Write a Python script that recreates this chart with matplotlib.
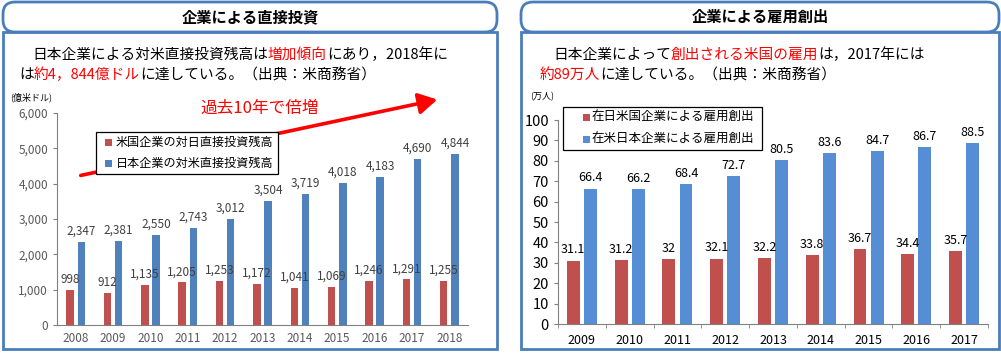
import matplotlib
matplotlib.use('Agg')
import numpy as np
from matplotlib import pyplot as plt
from matplotlib.patches import FancyBboxPatch, FancyArrowPatch, Rectangle

plt.rcParams['font.family'] = ['Noto Sans CJK JP', 'DejaVu Sans']
plt.rcParams['axes.unicode_minus'] = False

W, H = 1001, 354

# left chart: direct investment (億米ドル)
inv_years = ['2008', '2009', '2010', '2011', '2012', '2013', '2014', '2015', '2016', '2017', '2018']
inv_us_to_jp = [998, 912, 1135, 1205, 1253, 1172, 1041, 1069, 1246, 1291, 1255]
inv_jp_to_us = [2347, 2381, 2550, 2743, 3012, 3504, 3719, 4018, 4183, 4690, 4844]
inv_labels = ['米国企業の対日直接投資残高', '日本企業の対米直接投資残高']
inv_yticks = [0, 1000, 2000, 3000, 4000, 5000, 6000]

# right chart: job creation (万人)
job_years = ['2009', '2010', '2011', '2012', '2013', '2014', '2015', '2016', '2017']
job_us_in_jp = [31.1, 31.2, 32, 32.1, 32.2, 33.8, 36.7, 34.4, 35.7]
job_jp_in_us = [66.4, 66.2, 68.4, 72.7, 80.5, 83.6, 84.7, 86.7, 88.5]
job_labels = ['在日米国企業による雇用創出', '在米日本企業による雇用創出']
job_yticks = list(range(0, 101, 10))

RED = '#C0504D'
BLUE_L = '#4F81BD'
BLUE_R = '#558ED5'
FRAME = '#4A7EBB'


def fx(px):
    return px / W


def fy(py):
    return 1 - py / H


def axes_px(fig, x0, y0, x1, y1):
    return fig.add_axes([fx(x0), fy(y1), (x1 - x0) / W, (y1 - y0) / H])


def draw_runs(fig, x_px, y_px, runs, size):
    r = fig.canvas.get_renderer()
    x = x_px
    for s, c in runs:
        t = fig.text(fx(x), fy(y_px), s, color=c, fontsize=size, ha='left', va='center')
        bb = t.get_window_extent(renderer=r)
        x += bb.width


def panel(fig, x0, x1, title):
    body = Rectangle((fx(x0), fy(349)), (x1 - x0) / W, (349 - 32) / H,
                     transform=fig.transFigure, fill=False, ec=FRAME, lw=2)
    fig.patches.append(body)
    head = FancyBboxPatch((fx(x0), fy(32)), (x1 - x0) / W, 30 / H,
                          boxstyle='round,pad=0,rounding_size=0.012',
                          transform=fig.transFigure, fc='white', ec=FRAME, lw=2,
                          mutation_aspect=W / H)
    fig.patches.append(head)
    fig.text(fx((x0 + x1) / 2), fy(17), title, fontsize=11, fontweight='bold',
             ha='center', va='center')


def box_legend(fig, x0, y0, x1, y1, labels, colors, size, mark_dx, text_dx):
    # legend frame drawn in pixel coords, over the plot
    fr = Rectangle((fx(x0), fy(y1)), (x1 - x0) / W, (y1 - y0) / H, transform=fig.transFigure,
                   fc='white', ec='black', lw=0.9, zorder=5)
    fig.patches.append(fr)
    n = len(labels)
    step = (y1 - y0) / n
    for i, (lab, c) in enumerate(zip(labels, colors)):
        yc = y0 + step * (i + 0.5)
        sq = Rectangle((fx(x0 + mark_dx), fy(yc + 3.5)), 7 / W, 7 / H, transform=fig.transFigure,
                       fc=c, ec='none', zorder=6)
        fig.patches.append(sq)
        fig.text(fx(x0 + text_dx), fy(yc), lab, fontsize=size, ha='left', va='center', zorder=6)


fig = plt.figure(figsize=(W / 100, H / 100), dpi=100)

panel(fig, 3, 497, '企業による直接投資')
panel(fig, 521, 999, '企業による雇用創出')

# header texts
draw_runs(fig, 32, 55, [('日本企業による対米直接投資残高は', 'black'), ('増加傾向', 'red'),
                        ('にあり，2018年に', 'black')], 10.6)
draw_runs(fig, 19, 75, [('は', 'black'), ('約4，844億ドル', 'red'),
                        ('に達している。（出典：米商務省）', 'black')], 10.6)
draw_runs(fig, 553, 55, [('日本企業によって', 'black'), ('創出される米国の雇用', 'red'),
                         ('は，2017年には', 'black')], 10.6)
draw_runs(fig, 540, 75, [('約89万人', 'red'), ('に達している。（出典：米商務省）', 'black')], 10.6)

# ---------- left chart ----------
ax1 = axes_px(fig, 57, 113, 468, 325)
x = np.arange(len(inv_years))
b1 = ax1.bar(x - 0.15, inv_us_to_jp, width=0.2, color=RED)
b2 = ax1.bar(x + 0.15, inv_jp_to_us, width=0.2, color=BLUE_L)
fmt = lambda v: f'{v:,.0f}'
ax1.bar_label(b1, labels=[fmt(v) for v in inv_us_to_jp], padding=3, fontsize=8.5, color='#404040')
ax1.bar_label(b2, labels=[fmt(v) for v in inv_jp_to_us], padding=3, fontsize=8.5, color='#404040')
ax1.set_xlim(-0.5, len(inv_years) - 0.5)
ax1.set_ylim(0, 6000)
ax1.set_yticks(inv_yticks)
ax1.set_yticklabels([fmt(v) for v in inv_yticks])
ax1.set_xticks(x)
ax1.set_xticklabels(inv_years)
ax1.tick_params(axis='y', labelsize=8.5, labelcolor='#595959', length=3, color='#808080')
ax1.tick_params(axis='x', labelsize=8.5, labelcolor='#595959', length=0, pad=5)
for s in ['top', 'right']:
    ax1.spines[s].set_visible(False)
ax1.spines['left'].set_color('#808080')
ax1.spines['bottom'].set_color('#808080')
ax1.patch.set_alpha(0)
fig.text(fx(10), fy(97), '(億米ドル)', fontsize=6.5, ha='left', va='center')

arrow = FancyArrowPatch((fx(78), fy(176)), (fx(440), fy(99)), transform=fig.transFigure,
                        arrowstyle='-|>,head_length=7,head_width=4', color='red', lw=2.6,
                        mutation_scale=1.6, zorder=-1)
fig.patches.append(arrow)
fig.text(fx(260), fy(108), '過去10年で倍増', color='red', fontsize=12, ha='center', va='center')
box_legend(fig, 96, 132, 278, 174, inv_labels, [RED, BLUE_L], 8.7, 9, 20)

# ---------- right chart ----------
ax2 = axes_px(fig, 558, 120, 988, 324)
x2 = np.arange(len(job_years))
c1 = ax2.bar(x2 - 0.18, job_us_in_jp, width=0.27, color=RED)
c2 = ax2.bar(x2 + 0.18, job_jp_in_us, width=0.27, color=BLUE_R)
ax2.bar_label(c1, labels=[f'{v:g}' for v in job_us_in_jp], padding=3, fontsize=9)
ax2.bar_label(c2, labels=[f'{v:g}' for v in job_jp_in_us], padding=3, fontsize=9)
ax2.set_xlim(-0.5, len(job_years) - 0.5)
ax2.set_ylim(0, 100)
ax2.set_yticks(job_yticks)
ax2.set_xticks(x2)
ax2.set_xticklabels(job_years)
ax2.set_xticks(np.arange(-0.5, len(job_years)), minor=True)
ax2.tick_params(axis='x', which='major', length=0, labelsize=9, pad=7)
ax2.tick_params(axis='x', which='minor', length=3, color='#808080')
ax2.tick_params(axis='y', labelsize=10.5, length=3, color='#808080')
for s in ['top', 'right']:
    ax2.spines[s].set_visible(False)
ax2.spines['left'].set_color('#808080')
ax2.spines['bottom'].set_color('#808080')
ax2.patch.set_alpha(0)
box_legend(fig, 563, 107, 762, 150, job_labels, [RED, BLUE_R], 9, 20, 29)
fig.text(fx(530), fy(97), '(万人)', fontsize=6.5, ha='left', va='center')

fig.savefig('out.png', dpi=100)
